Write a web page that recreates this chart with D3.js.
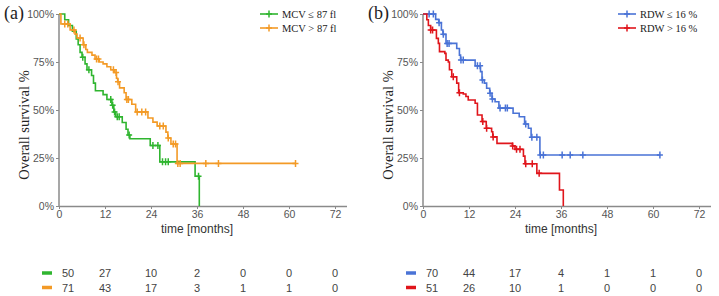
<!DOCTYPE html>
<html>
<head>
<meta charset="utf-8">
<script src="https://cdn.jsdelivr.net/npm/d3@7"></script>
<style>
  body { margin: 0; background: #fff; }
  svg { display: block; }
</style>
</head>
<body>
<script>
// time ticks (months) and survival ticks
var months = [0, 12, 24, 36, 48, 60, 72];
var survTicks = [0, 0.25, 0.5, 0.75, 1];

// panel (a): MCV <= 87 fl
var mcvLowT = [0, 1.5, 2.5, 3.5, 4.5, 5.0, 5.5, 6.0, 6.8, 7.3, 8.5, 9.0, 9.5, 11.5, 12.5, 13.8, 14.3, 14.8, 16.5, 17.5, 18.0, 18.5, 23.8, 26.3, 35.5, 36.6];
var mcvLowS = [1, 0.97, 0.94, 0.91, 0.87, 0.84, 0.80, 0.775, 0.74, 0.71, 0.68, 0.64, 0.60, 0.58, 0.555, 0.525, 0.49, 0.465, 0.435, 0.40, 0.37, 0.35, 0.315, 0.23, 0.155, 0];
var mcvLowC = [6.2, 7.8, 13.5, 14.0, 14.5, 15.2, 15.7, 18.3, 24.5, 25.8, 27.0, 27.8, 28.5, 36.4];
var mcvLowRisk = [50, 27, 10, 2, 0, 0, 0];

// panel (a): MCV > 87 fl
var mcvHighT = [0, 0.5, 2.9, 4.2, 4.7, 6.3, 7.0, 7.4, 8.6, 9.4, 10.5, 11.5, 12.5, 13.5, 14.5, 15.0, 15.3, 15.8, 17.0, 17.5, 19.0, 20.0, 23.2, 24.5, 25.6, 27.9, 28.4, 29.2, 30.8];
var mcvHighS = [1, 0.948, 0.917, 0.895, 0.875, 0.84, 0.815, 0.80, 0.786, 0.765, 0.75, 0.74, 0.725, 0.71, 0.695, 0.665, 0.647, 0.615, 0.59, 0.555, 0.53, 0.49, 0.458, 0.437, 0.417, 0.385, 0.354, 0.323, 0.222];
var mcvHighC = [1.5, 2.3, 3.9, 5.5, 6.5, 9.8, 10.3, 14.2, 14.9, 15.4, 17.7, 18.1, 20.4, 21.6, 22.6, 26.3, 27.2, 28.5, 29.8, 30.4, 31.0, 31.6, 38.3, 41.6, 61.7];
var mcvHighRisk = [71, 43, 17, 3, 1, 1, 0];

// panel (b): RDW <= 16 %
var rdwLowT = [0, 3.3, 4.1, 4.8, 5.2, 6.0, 8.8, 9.5, 9.8, 13.6, 15.0, 15.4, 16.0, 16.6, 17.4, 18.0, 18.8, 19.8, 23.5, 25.1, 26.5, 27.5, 28.2, 30.5];
var rdwLowS = [1, 0.972, 0.955, 0.917, 0.894, 0.847, 0.82, 0.786, 0.76, 0.73, 0.70, 0.656, 0.64, 0.613, 0.587, 0.557, 0.543, 0.51, 0.483, 0.465, 0.427, 0.405, 0.358, 0.266];
var rdwLowC = [1.6, 2.7, 4.2, 5.3, 6.3, 6.8, 9.9, 10.5, 14.2, 14.9, 15.5, 17.5, 18.1, 20.1, 21.5, 22.0, 26.8, 28.4, 29.7, 30.6, 31.4, 36.3, 38.4, 41.7, 61.8];
var rdwLowRisk = [70, 44, 17, 4, 1, 1, 0];

// panel (b): RDW > 16 %
var rdwHighT = [0, 1.0, 1.4, 2.0, 3.5, 4.0, 4.3, 5.7, 6.0, 6.6, 6.9, 7.5, 8.8, 9.3, 10.5, 11.2, 11.8, 13.6, 14.2, 15.4, 16.5, 17.9, 18.2, 19.3, 23.3, 24.0, 26.2, 26.6, 29.7, 35.6, 36.6];
var rdwHighS = [1, 0.97, 0.94, 0.917, 0.873, 0.847, 0.804, 0.795, 0.76, 0.75, 0.71, 0.673, 0.64, 0.59, 0.583, 0.57, 0.552, 0.535, 0.474, 0.44, 0.405, 0.387, 0.36, 0.326, 0.313, 0.295, 0.26, 0.22, 0.17, 0.083, 0];
var rdwHighC = [2.0, 2.5, 7.9, 9.5, 15.6, 16.6, 18.3, 23.4, 24.4, 25.3, 26.8, 28.5, 30.3];
var rdwHighRisk = [51, 26, 10, 1, 0, 0, 0];

var W = 719, H = 296;
var svg = d3.select("body").append("svg").attr("width", W).attr("height", H);

var serif = "'Liberation Serif', 'Times New Roman', serif";
var sans = "'Liberation Sans', Arial, sans-serif";

function stepAt(T, S, t) {
  var s = S[0];
  for (var i = 0; i < T.length; i++) { if (T[i] <= t) s = S[i]; }
  return s;
}

function drawPanel(opt) {
  var x = d3.scaleLinear().domain([0, 75]).range([opt.left, opt.left + 75 * 276 / 72]);
  var y = d3.scaleLinear().domain([0, 1]).range([206, 14]);
  var g = svg.append("g");

  // axes
  var ya = g.append("g").attr("transform", "translate(" + opt.left + ",0)")
    .call(d3.axisLeft(y).tickValues(survTicks).tickSize(3).tickPadding(2)
      .tickFormat(function(d) { return Math.round(d * 100) + "%"; }));
  var xa = g.append("g").attr("transform", "translate(0,206)")
    .call(d3.axisBottom(x).tickValues(months).tickSize(3).tickPadding(2).tickSizeOuter(0));
  [ya, xa].forEach(function(a) {
    a.select(".domain").attr("stroke", "#8a8a8a").attr("stroke-width", 1.5);
    a.selectAll(".tick line").attr("stroke", "#8a8a8a");
    a.selectAll(".tick text").attr("fill", "#555").style("font-family", sans).style("font-size", "10.5px");
  });
  ya.select(".domain").attr("d", "M0,14V206");

  // titles
  g.append("text").attr("x", x(36)).attr("y", 233).attr("text-anchor", "middle")
    .style("font-family", sans).style("font-size", "12px").attr("fill", "#333").text("time [months]");
  g.append("text").attr("transform", "translate(" + (opt.left - 30) + ",125) rotate(-90)")
    .attr("text-anchor", "middle").style("font-family", serif).style("font-size", "14.5px")
    .attr("fill", "#222").text("Overall survival %");
  g.append("text").attr("x", opt.left - 55).attr("y", 19)
    .style("font-family", serif).style("font-size", "18px").attr("fill", "#222").text(opt.label);

  opt.series.forEach(function(s, k) {
    var end = Math.max(s.T[s.T.length - 1], d3.max(s.C));
    var pts = s.T.map(function(t, i) { return [t, s.S[i]]; });
    pts.push([end, s.S[s.S.length - 1]]);
    g.append("path").datum(pts)
      .attr("d", d3.line().curve(d3.curveStepAfter)
        .x(function(d) { return x(d[0]); }).y(function(d) { return y(d[1]); }))
      .attr("fill", "none").attr("stroke", s.color).attr("stroke-width", 1.6);
    g.selectAll(null).data(s.C).enter().append("path")
      .attr("d", function(t) {
        var px = x(t), py = y(stepAt(s.T, s.S, t));
        return "M" + (px - 3) + "," + py + "H" + (px + 3) + "M" + px + "," + (py - 3.5) + "V" + (py + 3.5);
      })
      .attr("stroke", s.color).attr("stroke-width", 1.5);

    // legend
    var ly = 14 + k * 14;
    var lx = opt.legendX;
    g.append("line").attr("x1", lx).attr("x2", lx + 18).attr("y1", ly).attr("y2", ly)
      .attr("stroke", s.color).attr("stroke-width", 1.6);
    g.append("path").attr("d", "M" + (lx + 6) + "," + ly + "H" + (lx + 12) + "M" + (lx + 9) + "," + (ly - 3.5) + "V" + (ly + 3.5))
      .attr("stroke", s.color).attr("stroke-width", 1.5);
    g.append("text").attr("x", lx + 22).attr("y", ly + 3.5)
      .style("font-family", serif).style("font-size", "10.5px").attr("fill", "#222").text(s.name);

    // numbers at risk
    var ry = 273 + k * 14.5;
    g.append("line").attr("x1", opt.left - 17).attr("x2", opt.left - 7).attr("y1", ry).attr("y2", ry)
      .attr("stroke", s.color).attr("stroke-width", 3.5);
    g.selectAll(null).data(s.risk).enter().append("text")
      .attr("x", function(d, i) { return i === 0 ? x(months[i]) + 9 : x(months[i]); })
      .attr("y", ry + 4).attr("text-anchor", "middle")
      .style("font-family", sans).style("font-size", "11px").attr("fill", "#444")
      .text(function(d) { return d; });
  });
}

drawPanel({
  left: 59, label: "(a)", legendX: 260,
  series: [
    { name: "MCV \u2264 87 fl", color: "#2fb52f", T: mcvLowT, S: mcvLowS, C: mcvLowC, risk: mcvLowRisk },
    { name: "MCV > 87 fl", color: "#f39a26", T: mcvHighT, S: mcvHighS, C: mcvHighC, risk: mcvHighRisk }
  ]
});
drawPanel({
  left: 423, label: "(b)", legendX: 618,
  series: [
    { name: "RDW \u2264 16 %", color: "#4a73d6", T: rdwLowT, S: rdwLowS, C: rdwLowC, risk: rdwLowRisk },
    { name: "RDW > 16 %", color: "#e0151b", T: rdwHighT, S: rdwHighS, C: rdwHighC, risk: rdwHighRisk }
  ]
});
</script>
</body>
</html>
